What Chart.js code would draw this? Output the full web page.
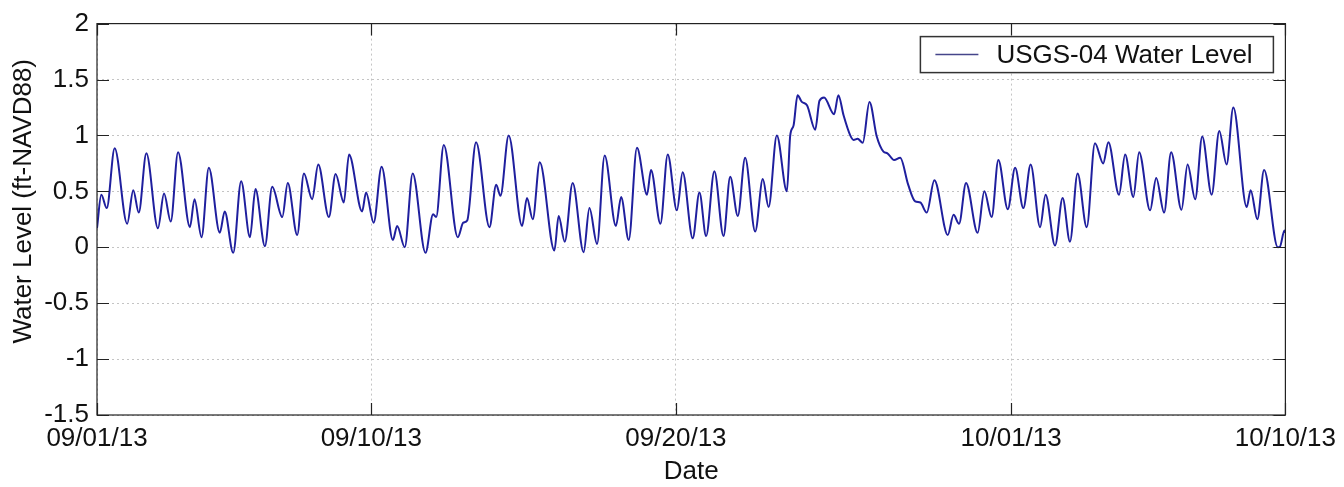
<!DOCTYPE html>
<html>
<head>
<meta charset="utf-8">
<script src="https://cdn.jsdelivr.net/npm/chart.js@4/dist/chart.umd.min.js"></script>
<style>
html,body{margin:0;padding:0;background:#fff;}
#wrap{width:1344px;height:487px;}
</style>
</head>
<body>
<div id="wrap"><canvas id="c" width="1344" height="487"></canvas></div>
<script>
// Days elapsed since 09/01/13 00:00
const dayOffsets = [
0.00,0.14,0.32,0.58,0.99,1.19,1.37,1.62,2.00,2.20,2.42,2.66,3.05,3.20,3.43,3.67,4.03,4.19,4.47,4.73,
5.02,5.20,5.51,5.75,6.08,6.26,6.57,6.79,7.06,7.26,7.61,7.83,8.10,8.27,8.70,8.83,9.08,9.34,9.71,9.85,
10.10,10.36,10.78,11.03,11.13,11.38,11.84,12.02,12.15,12.44,12.88,13.10,13.24,13.51,13.95,14.11,14.30,14.53,15.01,15.15,
15.35,15.61,15.97,16.16,16.41,16.66,17.03,17.20,17.45,17.72,18.05,18.18,18.49,18.73,19.03,19.22,19.55,19.77,19.99,20.26,
20.56,20.78,21.03,21.27,21.60,21.85,22.04,22.31,22.64,22.75,22.86,22.99,23.13,23.30,23.57,23.71,23.86,24.19,24.33,24.50,
24.72,24.83,24.96,25.13,25.35,25.59,25.81,25.94,26.16,26.36,26.62,26.85,27.02,27.23,27.48,27.92,28.11,28.29,28.52,28.90,
29.12,29.36,29.58,29.89,30.13,30.40,30.64,30.95,31.13,31.44,31.69,31.93,32.18,32.48,32.75,33.02,33.19,33.54,33.74,34.01,
34.20,34.56,34.76,35.02,35.25,35.59,35.79,36.04,36.27,36.58,36.83,37.07,37.29,37.73,37.86,38.08,38.30,38.75,38.82,38.97,39.00
];
// Water level (ft-NAVD88)
const waterLevels = [
0.17,0.47,0.35,0.885,0.21,0.51,0.31,0.84,0.17,0.48,0.23,0.85,0.18,0.43,0.09,0.71,0.13,0.32,-0.05,0.59,
0.09,0.52,0.01,0.54,0.27,0.575,0.11,0.66,0.43,0.74,0.27,0.655,0.40,0.83,0.32,0.49,0.22,0.72,0.065,0.19,
0.0,0.66,-0.05,0.295,0.27,0.915,0.09,0.22,0.24,0.94,0.18,0.56,0.46,1.0,0.19,0.44,0.25,0.76,-0.03,0.28,
0.05,0.575,-0.045,0.35,0.03,0.82,0.19,0.45,0.065,0.89,0.47,0.69,0.21,0.83,0.33,0.67,0.08,0.49,0.10,0.68,
0.10,0.63,0.28,0.80,0.14,0.61,0.36,1.0,0.50,1.0,1.09,1.36,1.30,1.27,1.05,1.31,1.34,1.19,1.36,1.18,
1.0,0.96,0.97,0.935,1.30,0.99,0.855,0.84,0.78,0.80,0.56,0.41,0.40,0.31,0.60,0.11,0.29,0.21,0.575,0.13,
0.50,0.27,0.78,0.34,0.71,0.35,0.74,0.18,0.47,0.015,0.44,0.05,0.66,0.18,0.93,0.75,0.94,0.47,0.83,0.45,
0.85,0.33,0.62,0.31,0.85,0.335,0.74,0.43,0.99,0.47,1.04,0.74,1.25,0.36,0.51,0.25,0.69,0.0,0.005,0.15,0.13
];
const tickDays = [0, 9, 19, 30, 39];
const tickLabels = ['09/01/13', '09/10/13', '09/20/13', '10/01/13', '10/10/13'];
const yTicks = [-1.5, -1, -0.5, 0, 0.5, 1, 1.5, 2];
const seriesLabel = 'USGS-04 Water Level';
const xTitle = 'Date';
const yTitle = 'Water Level (ft-NAVD88)';

const FONT = "'Liberation Sans', Arial, Helvetica, sans-serif";
const LINE_COLOR = '#1f1f9e';

const points = dayOffsets.map((d, i) => ({x: d, y: waterLevels[i]}));

const boxAndTicks = {
  id: 'boxAndTicks',
  afterDatasetsDraw(chart) {
    const {ctx, chartArea: a, scales} = chart;
    ctx.save();
    ctx.strokeStyle = '#222';
    ctx.lineWidth = 1.2;
    ctx.strokeRect(a.left, a.top, a.right - a.left, a.bottom - a.top);
    const L = 12;
    ctx.beginPath();
    tickDays.forEach(v => {
      const x = Math.round(scales.x.getPixelForValue(v)) + 0.5;
      ctx.moveTo(x, a.bottom); ctx.lineTo(x, a.bottom - L);
      ctx.moveTo(x, a.top); ctx.lineTo(x, a.top + L);
    });
    yTicks.forEach(v => {
      const y = Math.round(scales.y.getPixelForValue(v)) + 0.5;
      ctx.moveTo(a.left, y); ctx.lineTo(a.left + L, y);
      ctx.moveTo(a.right, y); ctx.lineTo(a.right - L, y);
    });
    ctx.stroke();
    ctx.restore();
  },
  afterDraw(chart) {
    const {ctx, chartArea: a} = chart;
    // y-axis title
    ctx.save();
    ctx.fillStyle = '#111';
    ctx.font = '26px ' + FONT;
    ctx.textAlign = 'center';
    ctx.textBaseline = 'middle';
    ctx.translate(24, (a.top + a.bottom) / 2 - 18);
    ctx.rotate(-Math.PI / 2);
    ctx.fillText(yTitle, 0, 0);
    ctx.restore();
    // legend box in upper right of the axes
    const bx = a.right - 365, by = a.top + 13, bw = 353, bh = 36;
    ctx.save();
    ctx.fillStyle = '#fff';
    ctx.fillRect(bx, by, bw, bh);
    ctx.strokeStyle = '#333';
    ctx.lineWidth = 1.5;
    ctx.strokeRect(bx, by, bw, bh);
    ctx.strokeStyle = '#45458a';
    ctx.lineWidth = 1.5;
    ctx.beginPath();
    ctx.moveTo(bx + 15, by + bh / 2);
    ctx.lineTo(bx + 58, by + bh / 2);
    ctx.stroke();
    ctx.fillStyle = '#111';
    ctx.font = '26px ' + FONT;
    ctx.textBaseline = 'middle';
    ctx.textAlign = 'left';
    ctx.fillText(chart.data.datasets[0].label, bx + 76, by + bh / 2 + 1);
    ctx.restore();
  }
};

new Chart(document.getElementById('c'), {
  type: 'line',
  data: {
    datasets: [{
      label: seriesLabel,
      data: points,
      borderColor: LINE_COLOR,
      borderWidth: 2,
      pointRadius: 0,
      fill: false,
      cubicInterpolationMode: 'monotone'
    }]
  },
  options: {
    responsive: false,
    animation: false,
    devicePixelRatio: 1,
    layout: {padding: {top: 20, right: 57, left: 0, bottom: 0}},
    plugins: {legend: {display: false}, tooltip: {enabled: false}},
    scales: {
      x: {
        type: 'linear',
        min: 0, max: 39,
        afterBuildTicks: s => { s.ticks = tickDays.map(v => ({value: v})); },
        afterFit: s => { s.height = 72; },
        ticks: {
          autoSkip: false, maxRotation: 0, padding: 8,
          color: '#111',
          font: {family: FONT, size: 26},
          callback: v => tickLabels[tickDays.indexOf(v)]
        },
        grid: {color: '#c4c4c4', lineWidth: 1, drawTicks: false},
        border: {display: false, dash: [2, 3]},
        title: {display: true, text: xTitle, color: '#111', font: {family: FONT, size: 26}, padding: {top: 0, bottom: 0}}
      },
      y: {
        min: -1.5, max: 2,
        afterBuildTicks: s => { s.ticks = yTicks.map(v => ({value: v})); },
        afterFit: s => { s.width = 97; },
        ticks: {
          padding: 8, color: '#111',
          font: {family: FONT, size: 26},
          callback: v => String(v)
        },
        grid: {color: '#c4c4c4', lineWidth: 1, drawTicks: false},
        border: {display: false, dash: [2, 3]},
        title: {display: false}
      }
    }
  },
  plugins: [boxAndTicks]
});
</script>
</body>
</html>
